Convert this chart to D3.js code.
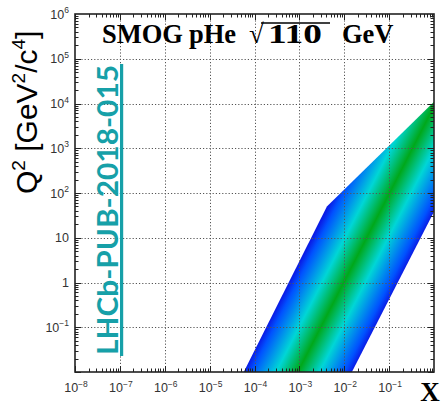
<!DOCTYPE html>
<html>
<head>
<meta charset="utf-8">
<script src="https://cdn.jsdelivr.net/npm/d3@7"></script>
<style>
  html, body { margin: 0; padding: 0; background: #fff; }
  svg { display: block; }
</style>
</head>
<body>
<svg id="chart" width="444" height="406"></svg>
<script>
// Kinematic coverage in the (x, Q^2) plane
const xTickExps = [-8, -7, -6, -5, -4, -3, -2, -1];
const yTickExps = [-1, 0, 1, 2, 3, 4, 5, 6];

// Outline of the accessible region (x, Q^2), walked clockwise
const bandX  = [5.75e-5, 4.1e-3, 1.0,   1.0,  1.48e-2];
const bandQ2 = [1e-2,    50,     1.1e4, 38,   1e-2];

// Colour stops across the band, from the low-x edge to the high-x edge
const bandStops  = [0, 0.07, 0.3, 0.5, 0.7, 0.93, 1];
const bandColors = ["#0a1ce6", "#0052ff", "#00d6d6", "#00a81a", "#00d6d6", "#0052ff", "#0a1ce6"];

const titleParts = ["SMOG", "pHe", "\u221A", "110", "GeV"];
const tagText = "LHCb-PUB-2018-015";

const svg = d3.select("#chart");
const L = 75, R = 434, T = 14, B = 372;
const x = d3.scaleLog().domain([1e-8, 1]).range([L, R]);
const y = d3.scaleLog().domain([1e-2, 1e6]).range([B, T]);

const pts = bandX.map((v, i) => [x(v), y(bandQ2[i])]);

// gradient runs perpendicular to the two parallel edges
const p0 = pts[0];             // low-x edge, bottom
const a = pts[4], b = pts[3];  // high-x edge
const dx = b[0] - a[0], dy = b[1] - a[1];
const len2 = dx * dx + dy * dy;
const tproj = ((p0[0] - a[0]) * dx + (p0[1] - a[1]) * dy) / len2;
const foot = [a[0] + tproj * dx, a[1] + tproj * dy];

const defs = svg.append("defs");
const grad = defs.append("linearGradient")
  .attr("id", "bandGrad")
  .attr("gradientUnits", "userSpaceOnUse")
  .attr("x1", p0[0]).attr("y1", p0[1])
  .attr("x2", foot[0]).attr("y2", foot[1]);
grad.selectAll("stop").data(bandStops).join("stop")
  .attr("offset", d => d)
  .attr("stop-color", (d, i) => bandColors[i]);

defs.append("clipPath").attr("id", "plotClip")
  .append("rect").attr("x", L).attr("y", T).attr("width", R - L).attr("height", B - T);

svg.append("g").attr("clip-path", "url(#plotClip)")
  .append("path")
  .attr("d", d3.line()(pts) + "Z")
  .attr("fill", "url(#bandGrad)");

// dotted grid at each decade
const grid = svg.append("g").attr("stroke", "#555").attr("stroke-width", 1)
  .attr("stroke-dasharray", "1.2,2");
xTickExps.forEach(e => {
  const px = Math.round(x(Math.pow(10, e))) + 0.5;
  if (e > -8) grid.append("line").attr("x1", px).attr("x2", px).attr("y1", T).attr("y2", B);
});
yTickExps.forEach(e => {
  const py = Math.round(y(Math.pow(10, e))) + 0.5;
  if (e < 6) grid.append("line").attr("x1", L).attr("x2", R).attr("y1", py).attr("y2", py);
});

// tick marks on all four sides, pointing inward
const ticks = svg.append("g").attr("stroke", "#222").attr("stroke-width", 1);
const minorX = [], minorY = [];
for (let e = -8; e < 0; e++) for (let m = 1; m < 10; m++) minorX.push({ v: m * Math.pow(10, e), major: m === 1 });
for (let e = -2; e < 6; e++) for (let m = 1; m < 10; m++) minorY.push({ v: m * Math.pow(10, e), major: m === 1 });
minorX.forEach(d => {
  const px = Math.round(x(d.v)) + 0.5, l = d.major ? 6 : 3.5;
  ticks.append("line").attr("x1", px).attr("x2", px).attr("y1", B).attr("y2", B - l);
  ticks.append("line").attr("x1", px).attr("x2", px).attr("y1", T).attr("y2", T + l);
});
minorY.forEach(d => {
  const py = Math.round(y(d.v)) + 0.5, l = d.major ? 6 : 3.5;
  ticks.append("line").attr("x1", L).attr("x2", L + l).attr("y1", py).attr("y2", py);
  ticks.append("line").attr("x1", R).attr("x2", R - l).attr("y1", py).attr("y2", py);
});

// frame
svg.append("rect").attr("x", L).attr("y", T).attr("width", R - L).attr("height", B - T)
  .attr("fill", "none").attr("stroke", "#222").attr("stroke-width", 1.6);

// tick labels
const lab = svg.append("g").attr("font-family", "'Liberation Sans', Arial, sans-serif")
  .attr("fill", "#333").attr("font-size", 12.5);
function powLabel(g, e) {
  if (e === 0) { g.text("1"); return; }
  if (e === 1) { g.text("10"); return; }
  g.append("tspan").text("10");
  g.append("tspan").attr("dy", -5.5).attr("font-size", 8.5).text(e < 0 ? "\u2212" + (-e) : String(e));
}
xTickExps.forEach(e => {
  const t = lab.append("text").attr("x", x(Math.pow(10, e)) + 1).attr("y", 392)
    .attr("text-anchor", "middle");
  powLabel(t, e);
});
yTickExps.forEach(e => {
  const t = lab.append("text").attr("x", 69).attr("y", y(Math.pow(10, e)) + 4.5)
    .attr("text-anchor", "end");
  powLabel(t, e);
});

// axis titles
const yt = svg.append("text")
  .attr("transform", "translate(37,194) rotate(-90)")
  .attr("font-family", "'Liberation Sans', Arial, sans-serif")
  .attr("font-size", 30).attr("fill", "#000");
yt.append("tspan").text("Q");
yt.append("tspan").attr("dy", -12).attr("font-size", 19).text("2");
yt.append("tspan").attr("dy", 12).text(" [GeV");
yt.append("tspan").attr("dy", -12).attr("font-size", 19).text("2");
yt.append("tspan").attr("dy", 12).text("/c");
yt.append("tspan").attr("dy", -12).attr("font-size", 19).text("4");
yt.append("tspan").attr("dy", 12).text("]");

svg.append("text").attr("x", 430).attr("y", 401).attr("text-anchor", "middle")
  .attr("font-family", "'Liberation Serif', 'Times New Roman', serif")
  .attr("font-weight", "bold").attr("font-size", 27).attr("fill", "#000").text("X");

// title with a square-root sign over the energy
const titleG = svg.append("g").attr("font-family", "'Liberation Serif', 'Times New Roman', serif")
  .attr("font-weight", "bold").attr("font-size", 26.5).attr("fill", "#000");
// left edge of each word along the baseline
const titleX = [102, 189, 249, 268, 342];
const baseY = 43;
titleParts.forEach((s, i) => {
  const t = titleG.append("text").attr("x", titleX[i]).attr("y", baseY).text(s);
  if (i === 2) t.attr("font-size", 27).attr("font-weight", "normal");
  if (i === 3) t.attr("textLength", 54).attr("lengthAdjust", "spacingAndGlyphs");
});
svg.append("line").attr("x1", 261).attr("x2", 330)
  .attr("y1", 23).attr("y2", 23).attr("stroke", "#000").attr("stroke-width", 1.4);

// document tag
const tagColor = "#16a0a8";
svg.append("text")
  .attr("transform", "translate(118,355) rotate(-90)")
  .attr("font-family", "Lato, 'Open Sans', sans-serif")
  .attr("font-weight", "bold").attr("font-size", 29).attr("fill", tagColor)
  .attr("textLength", 290).attr("lengthAdjust", "spacingAndGlyphs")
  .text(tagText);
svg.append("rect").attr("x", 120).attr("y", 64).attr("width", 3.2).attr("height", 292)
  .attr("fill", tagColor);
</script>
</body>
</html>
